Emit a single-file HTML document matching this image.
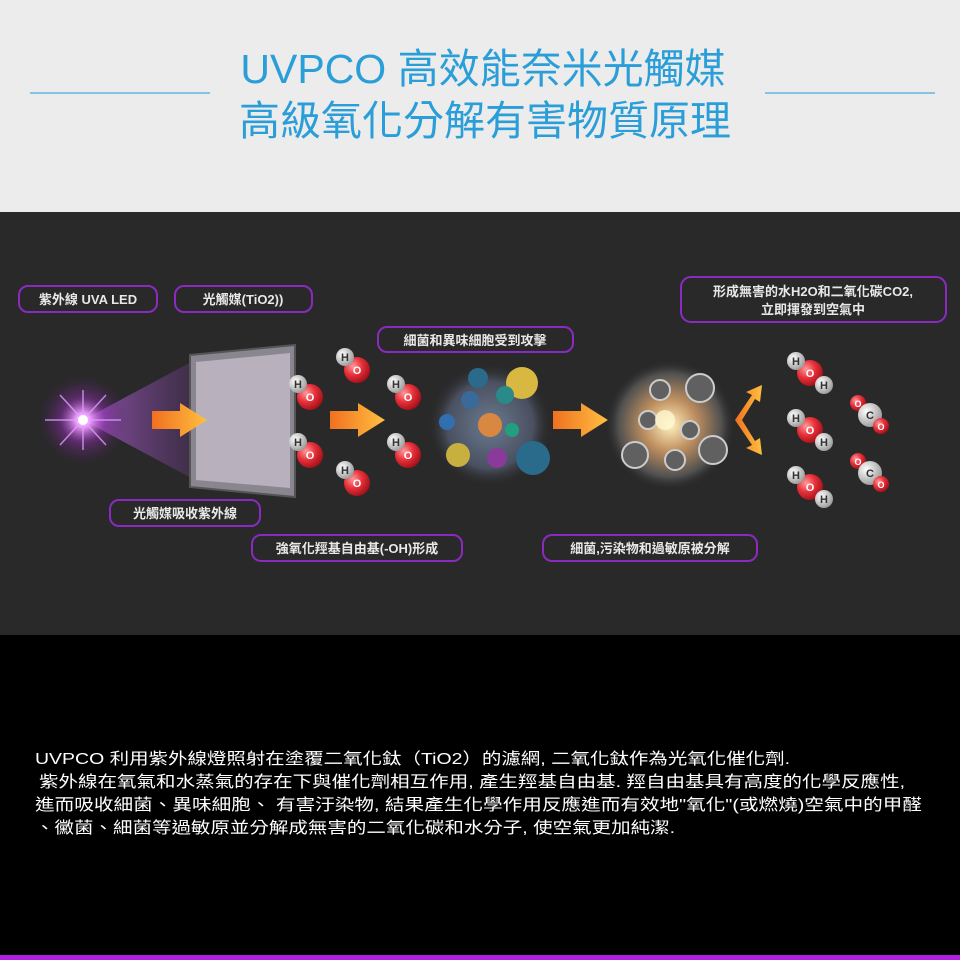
<!DOCTYPE html>
<html><head><meta charset="utf-8"><style>
html,body{margin:0;padding:0;width:960px;height:960px;overflow:hidden;background:#000}
svg{display:block}
text{font-family:"Liberation Sans","Noto Sans CJK TC",sans-serif}
</style></head><body>
<svg width="960" height="960" viewBox="0 0 960 960" xmlns="http://www.w3.org/2000/svg">
<defs>
<radialGradient id="glow" cx="0.5" cy="0.5" r="0.5">
<stop offset="0" stop-color="#fff"/><stop offset="0.15" stop-color="#f0a0ff"/><stop offset="0.5" stop-color="#9030b0" stop-opacity="0.5"/><stop offset="1" stop-color="#502060" stop-opacity="0"/>
</radialGradient>
<linearGradient id="beam" x1="0" y1="0" x2="1" y2="0">
<stop offset="0" stop-color="#d070ff" stop-opacity="0.9"/><stop offset="1" stop-color="#8040a0" stop-opacity="0.35"/>
</linearGradient>
<linearGradient id="arr" x1="0" y1="0" x2="1" y2="0">
<stop offset="0" stop-color="#f07020"/><stop offset="1" stop-color="#ffc040"/>
</linearGradient>
<radialGradient id="red" cx="0.35" cy="0.35" r="0.7"><stop offset="0" stop-color="#ff9a9a"/><stop offset="0.5" stop-color="#e8303a"/><stop offset="1" stop-color="#a01018"/></radialGradient>
<radialGradient id="wht" cx="0.35" cy="0.35" r="0.7"><stop offset="0" stop-color="#fff"/><stop offset="1" stop-color="#999"/></radialGradient>
<radialGradient id="boom" cx="0.5" cy="0.5" r="0.5"><stop offset="0" stop-color="#fff4c0"/><stop offset="0.4" stop-color="#c09060"/><stop offset="0.8" stop-color="#505050"/><stop offset="1" stop-color="#2a2a2a" stop-opacity="0"/></radialGradient>
<radialGradient id="cells" cx="0.5" cy="0.5" r="0.5"><stop offset="0" stop-color="#6a7a90"/><stop offset="0.7" stop-color="#4a5060"/><stop offset="1" stop-color="#2a2a2a" stop-opacity="0"/></radialGradient>
<g id="O"><circle r="13" fill="url(#red)"/></g>
<g id="H"><circle r="9" fill="url(#wht)"/></g>
</defs>
<rect x="0" y="0" width="960" height="212" fill="#ececec"/>
<line x1="30" y1="93" x2="210" y2="93" stroke="#4aa8dc" stroke-width="1.2"/>
<line x1="765" y1="93" x2="935" y2="93" stroke="#4aa8dc" stroke-width="1.2"/>
<text x="483" y="83" text-anchor="middle" font-size="41" fill="#2a9ed8">UVPCO 高效能奈米光觸媒</text>
<text x="485" y="135" text-anchor="middle" font-size="41" fill="#2a9ed8">高級氧化分解有害物質原理</text>
<rect x="0" y="212" width="960" height="423" fill="#292929"/>
<rect x="0" y="635" width="960" height="325" fill="#000"/>
<rect x="0" y="955" width="960" height="5" fill="#b020e0"/>

<polygon points="83,420 195,360 195,480" fill="url(#beam)" opacity="0.7"/>
<circle cx="83" cy="420" r="45" fill="url(#glow)"/>
<g stroke="#e0a0ff" stroke-width="1.5" opacity="0.8">
<line x1="45" y1="420" x2="121" y2="420"/><line x1="83" y1="390" x2="83" y2="450"/><line x1="60" y1="395" x2="106" y2="445"/><line x1="60" y1="445" x2="106" y2="395"/></g>
<circle cx="83" cy="420" r="5" fill="#fff"/>
<polygon points="190,355 295,345 295,497 190,487" fill="#8a8690" stroke="#555" stroke-width="2"/>
<polygon points="196,362 290,353 290,488 196,480" fill="#b8b0bc"/>
<polygon points="152,411 180,411 180,403 207,420 180,437 180,429 152,429" fill="url(#arr)"/>
<polygon points="330,411 358,411 358,403 385,420 358,437 358,429 330,429" fill="url(#arr)"/>
<polygon points="553,411 581,411 581,403 608,420 581,437 581,429 553,429" fill="url(#arr)"/>
<polygon points="735,420 752,395 746,392 762,385 760,402 755,399 742,420" fill="url(#arr)"/>
<polygon points="735,420 752,445 746,448 762,455 760,438 755,441 742,420" fill="url(#arr)"/>
<g font-size="11" font-weight="bold" text-anchor="middle">
<g transform="translate(310,397)"><use href="#O"/><use href="#H" x="-12" y="-13"/><text y="4" fill="#fff">O</text><text x="-12" y="-9" fill="#333">H</text></g>
<g transform="translate(310,455)"><use href="#O"/><use href="#H" x="-12" y="-13"/><text y="4" fill="#fff">O</text><text x="-12" y="-9" fill="#333">H</text></g>
<g transform="translate(357,370)"><use href="#O"/><use href="#H" x="-12" y="-13"/><text y="4" fill="#fff">O</text><text x="-12" y="-9" fill="#333">H</text></g>
<g transform="translate(357,483)"><use href="#O"/><use href="#H" x="-12" y="-13"/><text y="4" fill="#fff">O</text><text x="-12" y="-9" fill="#333">H</text></g>
<g transform="translate(408,397)"><use href="#O"/><use href="#H" x="-12" y="-13"/><text y="4" fill="#fff">O</text><text x="-12" y="-9" fill="#333">H</text></g>
<g transform="translate(408,455)"><use href="#O"/><use href="#H" x="-12" y="-13"/><text y="4" fill="#fff">O</text><text x="-12" y="-9" fill="#333">H</text></g>
</g>
<circle cx="490" cy="425" r="62" fill="url(#cells)"/>
<circle cx="522" cy="383" r="16" fill="#d8b840"/>
<circle cx="533" cy="458" r="17" fill="#2a6a8a"/>
<circle cx="490" cy="425" r="12" fill="#d88840"/>
<circle cx="458" cy="455" r="12" fill="#c8b040"/>
<circle cx="497" cy="458" r="10" fill="#8a3a9a"/>
<circle cx="505" cy="395" r="9" fill="#2a8a8a"/>
<circle cx="470" cy="400" r="9" fill="#3a6a9a"/>
<circle cx="512" cy="430" r="7" fill="#20a080"/>
<circle cx="447" cy="422" r="8" fill="#3070b0"/>
<circle cx="478" cy="378" r="10" fill="#2a6a8a"/>
<circle cx="670" cy="425" r="65" fill="url(#boom)"/>
<g fill="#606060" stroke="#ccc" stroke-width="2">
<circle cx="700" cy="388" r="14"/><circle cx="713" cy="450" r="14"/><circle cx="635" cy="455" r="13"/><circle cx="660" cy="390" r="10"/><circle cx="690" cy="430" r="9"/><circle cx="648" cy="420" r="9"/><circle cx="675" cy="460" r="10"/></g>
<circle cx="665" cy="420" r="10" fill="#fff8d0" opacity="0.8"/>
<g font-size="11" font-weight="bold" text-anchor="middle">
<g transform="translate(810,373)"><use href="#O"/><use href="#H" x="-14" y="-12"/><use href="#H" x="14" y="12"/><text y="4" fill="#fff">O</text><text x="-14" y="-8" fill="#333">H</text><text x="14" y="16" fill="#333">H</text></g>
<g transform="translate(810,430)"><use href="#O"/><use href="#H" x="-14" y="-12"/><use href="#H" x="14" y="12"/><text y="4" fill="#fff">O</text><text x="-14" y="-8" fill="#333">H</text><text x="14" y="16" fill="#333">H</text></g>
<g transform="translate(810,487)"><use href="#O"/><use href="#H" x="-14" y="-12"/><use href="#H" x="14" y="12"/><text y="4" fill="#fff">O</text><text x="-14" y="-8" fill="#333">H</text><text x="14" y="16" fill="#333">H</text></g>
<g transform="translate(870,415)"><circle cx="-12" cy="-12" r="8" fill="url(#red)"/><circle r="12" fill="url(#wht)"/><circle cx="11" cy="11" r="8" fill="url(#red)"/><text y="4" fill="#333">C</text><text x="11" y="15" fill="#fff" font-size="9">O</text><text x="-12" y="-8" fill="#fff" font-size="9">O</text></g>
<g transform="translate(870,473)"><circle cx="-12" cy="-12" r="8" fill="url(#red)"/><circle r="12" fill="url(#wht)"/><circle cx="11" cy="11" r="8" fill="url(#red)"/><text y="4" fill="#333">C</text><text x="11" y="15" fill="#fff" font-size="9">O</text><text x="-12" y="-8" fill="#fff" font-size="9">O</text></g>
</g>
<g fill="#292929" stroke="#8a2ac0" stroke-width="2">
<rect x="19" y="286" width="138" height="26" rx="9"/>
<rect x="175" y="286" width="137" height="26" rx="9"/>
<rect x="378" y="327" width="195" height="25" rx="9"/>
<rect x="681" y="277" width="265" height="45" rx="10"/>
<rect x="110" y="500" width="150" height="26" rx="9"/>
<rect x="252" y="535" width="210" height="26" rx="9"/>
<rect x="543" y="535" width="214" height="26" rx="9"/>
</g>
<g fill="#e8e8e8" font-size="13" font-weight="bold" text-anchor="middle">
<text x="88" y="304">紫外線 UVA LED</text>
<text x="243" y="304">光觸媒(TiO2))</text>
<text x="475" y="345">細菌和異味細胞受到攻擊</text>
<text x="813" y="296">形成無害的水H2O和二氧化碳CO2,</text>
<text x="813" y="314">立即揮發到空氣中</text>
<text x="185" y="518">光觸媒吸收紫外線</text>
<text x="357" y="553">強氧化羥基自由基(-OH)形成</text>
<text x="650" y="553">細菌,污染物和過敏原被分解</text>
</g>
<g fill="#fff" font-size="16">
<text x="35" y="764" textLength="755" lengthAdjust="spacingAndGlyphs">UVPCO 利用紫外線燈照射在塗覆二氧化鈦（TiO2）的濾網, 二氧化鈦作為光氧化催化劑.</text>
<text x="39" y="787" textLength="866" lengthAdjust="spacingAndGlyphs">紫外線在氧氣和水蒸氣的存在下與催化劑相互作用, 產生羥基自由基. 羥自由基具有高度的化學反應性,</text>
<text x="35" y="810" textLength="887" lengthAdjust="spacingAndGlyphs">進而吸收細菌、異味細胞、 有害汙染物, 結果產生化學作用反應進而有效地"氧化"(或燃燒)空氣中的甲醛</text>
<text x="35" y="833" textLength="640" lengthAdjust="spacingAndGlyphs">、黴菌、細菌等過敏原並分解成無害的二氧化碳和水分子, 使空氣更加純潔.</text>
</g>
</svg>
</body></html>
